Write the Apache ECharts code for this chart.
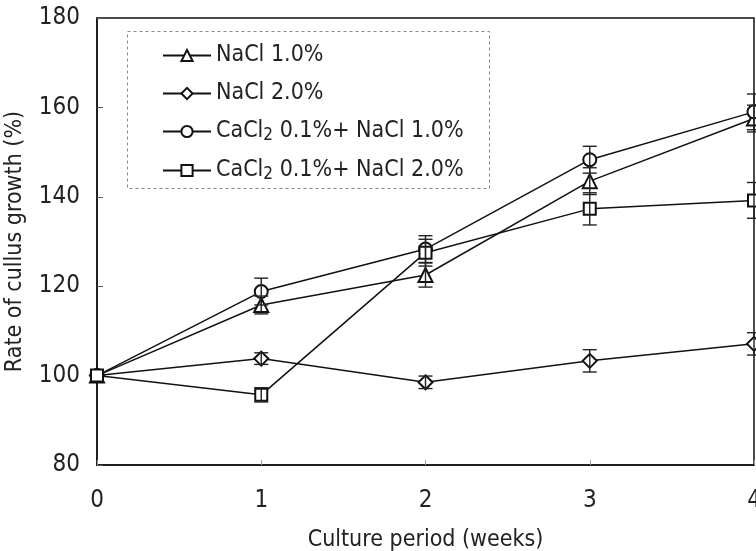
<!DOCTYPE html>
<html><head><meta charset="utf-8">
<script src="https://cdn.jsdelivr.net/npm/echarts@6/dist/echarts.min.js"></script>
<style>html,body{margin:0;padding:0;background:#fff}#c{width:756px;height:551px}</style>
</head><body><div id="c"></div>
<script>
var weeks = [0, 1, 2, 3, 4];
var seriesNames = ['NaCl 1.0%', 'NaCl 2.0%', 'CaCl2 0.1%+ NaCl 1.0%', 'CaCl2 0.1%+ NaCl 2.0%'];
var nacl1 = [100, 115.8, 122.5, 143.5, 157.5];
var nacl1Err = [0, 2, 2.7, 3, 3];
var nacl2 = [100, 103.8, 98.5, 103.3, 107.1];
var nacl2Err = [0, 1.3, 1.4, 2.5, 2.5];
var ca1 = [100, 118.8, 128.3, 148.3, 159];
var ca1Err = [0, 3, 3, 3, 4];
var ca2 = [100, 95.7, 127.5, 137.3, 139.2];
var ca2Err = [0, 1.6, 3, 3.6, 4];
var symbols = ['emptyTriangle', 'emptyDiamond', 'emptyCircle', 'emptyRect'];
var symbolSizes = [14, 14, 13, 12];
var yTicks = [80, 100, 120, 140, 160, 180];

var FONT = "'Liberation Sans Narrow', 'DejaVu Sans Condensed', Arial, sans-serif";
var means = [nacl1, nacl2, ca1, ca2];
var errs = [nacl1Err, nacl2Err, ca1Err, ca2Err];

var series = [];
means.forEach(function (m, i) {
  series.push({
    name: seriesNames[i], type: 'line',
    data: weeks.map(function (w, k) { return [w, m[k]]; }),
    symbol: symbols[i], symbolSize: symbolSizes[i],
    lineStyle: { color: '#111', width: 1.5 },
    itemStyle: { color: '#111', borderColor: '#111', borderWidth: 1.3 },
    z: 3, clip: false
  });
});
means.forEach(function (m, i) {
  series.push({
    type: 'custom', silent: true, z: 4, clip: false,
    data: weeks.map(function (w, k) { return [w, m[k] - errs[i][k], m[k] + errs[i][k]]; }),
    encode: { x: 0, y: [1, 2] },
    renderItem: function (params, api) {
      if (api.value(2) - api.value(1) <= 0) return null;
      var x = api.value(0);
      var lo = api.coord([x, api.value(1)]);
      var hi = api.coord([x, api.value(2)]);
      var w = 7, st = { stroke: '#222', lineWidth: 1.4 };
      return { type: 'group', children: [
        { type: 'line', shape: { x1: lo[0], y1: lo[1], x2: hi[0], y2: hi[1] }, style: st },
        { type: 'line', shape: { x1: lo[0] - w, y1: lo[1], x2: lo[0] + w, y2: lo[1] }, style: st },
        { type: 'line', shape: { x1: hi[0] - w, y1: hi[1], x2: hi[0] + w, y2: hi[1] }, style: st }
      ]};
    }
  });
});

var chart = echarts.init(document.getElementById('c'));
chart.setOption({
  animation: false,
  backgroundColor: '#fff',
  textStyle: { fontFamily: FONT },
  grid: { left: 97, right: 2, top: 18, bottom: 86, show: true, borderColor: '#111', borderWidth: 1.5,
          containLabel: false, outerBoundsMode: 'none' },
  xAxis: {
    type: 'value', min: 0, max: 4, interval: 1,
    name: 'Culture period (weeks)', nameLocation: 'middle', nameGap: 64,
    nameTextStyle: { fontFamily: FONT, fontSize: 23, color: '#222' },
    axisLine: { show: true, lineStyle: { color: '#111', width: 1.5 } },
    axisTick: { show: true, inside: true, length: 5, lineStyle: { color: '#999' } },
    axisLabel: { fontFamily: FONT, fontSize: 24, color: '#222', margin: 24 },
    splitLine: { show: false }
  },
  yAxis: {
    type: 'value', min: yTicks[0], max: yTicks[yTicks.length - 1], interval: 20,
    name: 'Rate of cullus growth (%)', nameLocation: 'middle', nameGap: 70,
    nameTextStyle: { fontFamily: FONT, fontSize: 23, color: '#222' },
    axisLine: { show: true, lineStyle: { color: '#111', width: 1.5 } },
    axisTick: { show: true, inside: true, length: 6, lineStyle: { color: '#555' } },
    axisLabel: { fontFamily: FONT, fontSize: 24, color: '#222', margin: 17 },
    splitLine: { show: false }
  },
  legend: {
    data: seriesNames, orient: 'vertical', left: 157, top: 39,
    itemWidth: 48, itemHeight: 14, itemGap: 15,
    formatter: function (n) { return n.replace('CaCl2', 'CaCl{sub|2}'); },
    textStyle: { fontFamily: FONT, fontSize: 23, color: '#222',
      rich: { sub: { fontFamily: FONT, fontSize: 17, color: '#222', padding: [8, 0, 0, 0] } } }
  },
  graphic: [{
    type: 'rect', left: 125, top: 29, z: 0,
    shape: { width: 362, height: 157 },
    style: { fill: 'none', stroke: '#888', lineWidth: 1, lineDash: [3, 3] }
  }],
  series: series
});
</script></body></html>
